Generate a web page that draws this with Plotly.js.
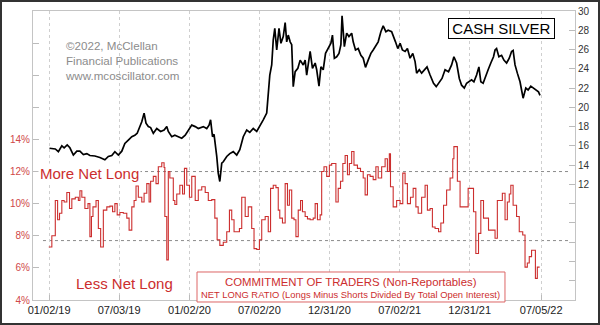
<!DOCTYPE html>
<html>
<head>
<meta charset="utf-8">
<script src="https://cdn.plot.ly/plotly-3.0.1.min.js"></script>
<style>
html,body{margin:0;padding:0;background:#fff;}
#wrap{position:relative;width:600px;height:325px;}
#frame{position:absolute;left:0;top:0;width:600px;height:325px;box-sizing:border-box;border:2px solid #333;pointer-events:none;}
</style>
</head>
<body>
<div id="wrap"><div id="chart"></div><div id="frame"></div></div>
<script>
// Cash silver price (right axis, $/oz)
const silverDates = ["2019-01-03","2019-01-18","2019-01-26","2019-02-04","2019-02-10","2019-02-18","2019-02-25","2019-03-06","2019-03-15","2019-03-23","2019-04-01","2019-04-10","2019-04-18","2019-05-01","2019-05-14","2019-05-27","2019-06-05","2019-06-14","2019-06-22","2019-07-01","2019-07-10","2019-07-18","2019-07-27","2019-08-05","2019-08-13","2019-08-19","2019-08-24","2019-08-31","2019-09-06","2019-09-11","2019-09-17","2019-09-23","2019-09-30","2019-10-09","2019-10-19","2019-10-28","2019-11-04","2019-11-08","2019-11-17","2019-11-25","2019-12-04","2019-12-13","2019-12-22","2019-12-31","2020-01-08","2020-01-17","2020-01-25","2020-02-07","2020-02-16","2020-02-22","2020-02-26","2020-03-02","2020-03-06","2020-03-13","2020-03-17","2020-03-21","2020-03-26","2020-03-30","2020-04-08","2020-04-16","2020-04-25","2020-05-04","2020-05-12","2020-05-21","2020-05-30","2020-06-07","2020-06-16","2020-06-25","2020-07-03","2020-07-12","2020-07-21","2020-07-24","2020-07-29","2020-08-03","2020-08-07","2020-08-11","2020-08-16","2020-08-22","2020-08-27","2020-09-02","2020-09-07","2020-09-11","2020-09-15","2020-09-20","2020-09-24","2020-09-28","2020-10-03","2020-10-10","2020-10-16","2020-10-24","2020-10-29","2020-11-02","2020-11-11","2020-11-17","2020-11-24","2020-11-28","2020-12-04","2020-12-09","2020-12-15","2020-12-21","2020-12-28","2021-01-04","2021-01-08","2021-01-13","2021-01-19","2021-01-25","2021-01-30","2021-02-02","2021-02-08","2021-02-14","2021-02-20","2021-02-27","2021-03-03","2021-03-09","2021-03-16","2021-03-23","2021-03-29","2021-04-04","2021-04-11","2021-04-18","2021-04-24","2021-04-30","2021-05-07","2021-05-14","2021-05-20","2021-05-27","2021-06-02","2021-06-11","2021-06-15","2021-06-21","2021-06-27","2021-07-03","2021-07-09","2021-07-16","2021-07-22","2021-07-29","2021-08-05","2021-08-11","2021-08-15","2021-08-22","2021-08-28","2021-09-04","2021-09-11","2021-09-19","2021-09-28","2021-10-05","2021-10-11","2021-10-20","2021-10-28","2021-11-06","2021-11-14","2021-11-20","2021-11-27","2021-12-04","2021-12-10","2021-12-17","2021-12-23","2021-12-30","2022-01-05","2022-01-11","2022-01-18","2022-01-24","2022-01-29","2022-02-04","2022-02-11","2022-02-17","2022-02-24","2022-03-03","2022-03-07","2022-03-11","2022-03-17","2022-03-24","2022-03-30","2022-04-06","2022-04-13","2022-04-19","2022-04-23","2022-04-28","2022-05-04","2022-05-11","2022-05-15","2022-05-19","2022-05-26","2022-06-01","2022-06-08","2022-06-15","2022-06-22","2022-06-28","2022-07-02"];
const silverVals = [15.75,15.68,15.4,16.0,15.8,16.1,15.8,15.05,15.45,15.45,15.1,15.2,15.0,14.95,14.8,14.55,14.9,15.0,15.4,15.05,15.45,16.25,16.6,16.95,17.1,17.3,17.8,18.5,19.4,18.35,18.0,17.9,17.3,17.8,17.5,17.65,18.0,17.5,16.95,17.1,16.95,16.8,17.1,17.65,18.15,18.0,17.8,18.0,17.8,18.15,18.7,16.95,17.2,14.9,13.15,12.3,14.2,14.35,14.9,15.2,15.4,15.05,15.6,16.95,17.65,17.4,17.8,17.5,18.0,18.7,19.4,20.9,23.35,24.4,27.0,28.2,25.95,28.2,26.65,27.35,28.8,26.8,27.5,26.8,26.5,22.15,23.7,24.05,24.9,24.4,24.9,23.35,25.8,24.05,24.6,23.9,22.2,24.2,23.9,25.6,26.1,26.65,27.5,25.1,25.25,25.6,26.5,29.5,26.3,27.7,27.35,27.7,26.8,25.95,26.1,25.4,25.1,24.15,24.9,25.6,25.95,26.3,26.8,27.85,28.45,27.85,28.0,27.85,27.5,26.8,26.1,26.65,25.95,25.8,26.1,25.1,25.6,24.75,23.55,23.9,23.55,23.9,24.2,23.35,22.5,22.15,22.5,23.0,23.9,23.7,24.4,25.25,24.6,23.0,22.3,22.0,22.5,22.65,22.85,22.65,23.35,24.2,22.65,22.5,23.35,23.9,24.6,25.25,25.95,26.1,25.25,25.4,24.9,24.6,25.1,25.8,25.9,24.4,23.55,22.65,21.8,20.95,22.0,21.8,22.2,22.0,21.8,21.6,21.25];

// COT non-reportables net long ratio (left axis, %)
const cotDates = ["2019-01-01","2019-01-09","2019-01-18","2019-01-24","2019-01-29","2019-02-04","2019-02-10","2019-02-17","2019-02-24","2019-03-02","2019-03-11","2019-03-19","2019-03-23","2019-03-28","2019-04-05","2019-04-13","2019-04-18","2019-04-22","2019-04-26","2019-05-04","2019-05-10","2019-05-16","2019-05-23","2019-06-01","2019-06-09","2019-06-16","2019-06-22","2019-06-28","2019-07-05","2019-07-14","2019-07-23","2019-07-29","2019-08-05","2019-08-11","2019-08-16","2019-08-22","2019-08-31","2019-09-06","2019-09-13","2019-09-19","2019-09-23","2019-09-30","2019-10-07","2019-10-13","2019-10-22","2019-10-28","2019-10-30","2019-11-04","2019-11-08","2019-11-12","2019-11-21","2019-11-25","2019-11-30","2019-12-08","2019-12-15","2019-12-20","2019-12-26","2020-01-02","2020-01-08","2020-01-17","2020-01-25","2020-02-03","2020-02-12","2020-02-20","2020-02-29","2020-03-08","2020-03-14","2020-03-21","2020-03-30","2020-04-08","2020-04-15","2020-04-21","2020-04-27","2020-05-11","2020-05-17","2020-05-26","2020-06-03","2020-06-12","2020-06-18","2020-06-25","2020-07-02","2020-07-08","2020-07-17","2020-07-25","2020-07-31","2020-08-07","2020-08-14","2020-08-20","2020-08-24","2020-08-31","2020-09-07","2020-09-13","2020-09-18","2020-09-24","2020-09-30","2020-10-05","2020-10-11","2020-10-17","2020-10-22","2020-10-29","2020-11-04","2020-11-11","2020-11-19","2020-11-24","2020-11-30","2020-12-07","2020-12-11","2020-12-17","2020-12-24","2020-12-31","2021-01-06","2021-01-17","2021-01-23","2021-01-29","2021-02-04","2021-02-10","2021-02-16","2021-02-21","2021-02-27","2021-03-05","2021-03-14","2021-03-22","2021-03-29","2021-04-03","2021-04-09","2021-04-16","2021-04-24","2021-05-01","2021-05-07","2021-05-16","2021-05-25","2021-05-31","2021-06-05","2021-06-08","2021-06-15","2021-06-24","2021-07-03","2021-07-10","2021-07-16","2021-07-22","2021-07-30","2021-08-06","2021-08-13","2021-08-19","2021-08-28","2021-09-06","2021-09-12","2021-09-19","2021-09-25","2021-10-02","2021-10-11","2021-10-17","2021-10-24","2021-11-01","2021-11-10","2021-11-17","2021-11-20","2021-11-29","2021-12-06","2021-12-27","2022-01-10","2022-01-16","2022-01-23","2022-01-29","2022-02-05","2022-02-18","2022-03-07","2022-03-13","2022-03-26","2022-04-02","2022-04-08","2022-04-13","2022-04-17","2022-04-23","2022-05-02","2022-05-09","2022-05-18","2022-05-24","2022-05-30","2022-06-04","2022-06-10","2022-06-20","2022-06-25","2022-07-01"];
const cotVals = [7.3,8.0,10.2,9.0,9.4,10.2,10.1,10.7,9.7,10.3,10.4,10.2,10.8,10.4,9.7,10.0,7.95,9.2,9.8,10.2,8.45,7.3,9.6,9.8,9.85,9.5,10.0,9.3,9.45,9.4,9.1,8.35,9.8,10.2,11.1,10.4,10.1,10.65,11.25,10.1,11.4,11.7,11.25,12.3,12.55,12.25,9.2,6.5,12.0,11.6,10.2,9.95,10.6,11.15,10.6,12.2,11.15,10.4,11.7,10.2,10.85,11.05,10.7,10.2,10.25,9.1,7.75,7.4,7.6,8.25,9.6,9.0,8.25,8.45,10.4,9.2,9.8,8.45,7.2,7.15,7.75,9.0,9.2,8.25,10.95,11.15,11.0,9.6,9.1,8.8,11.25,9.9,10.85,9.1,9.0,7.95,9.6,10.2,9.5,9.2,9.05,9.0,9.1,10.0,9.0,9.3,12.0,12.3,11.7,12.4,12.5,10.1,10.95,11.4,12.5,13.0,11.8,12.5,13.25,12.4,12.2,12.0,11.6,10.55,11.8,11.7,11.5,12.3,11.6,12.3,12.8,12.0,13.1,11.05,9.8,10.2,10.0,11.9,11.25,10.0,10.4,10.95,9.8,9.4,10.4,11.15,9.6,9.7,8.55,8.45,8.25,8.8,9.9,10.85,11.6,12.8,13.55,11.4,9.8,10.95,9.5,6.9,8.15,10.2,9.1,8.35,7.85,10.2,10.65,9.0,10.1,10.6,11.15,9.9,9.2,8.25,8.05,6.05,6.3,6.7,7.1,5.35,6.05,6.05];

const xTickVals = ["2019-01-02","2019-07-03","2020-01-02","2020-07-02","2020-12-31","2021-07-02","2021-12-31","2022-07-05"];
const xTickText = ["01/02/19","07/03/19","01/02/20","07/02/20","12/31/20","07/02/21","12/31/21","07/05/22"];
const leftTickVals = [4,6,8,10,12,14,16,18,20,22];
const leftTickText = ["4%","6%","8%","10%","12%","14%","","","",""];
const rightTickVals = [0,2,4,6,8,10,12,14,16,18,20,22,24,26,28,30];
const rightTickText = ["","","","","","","12","14","16","18","20","22","24","26","28","30"];
const refLevels = [12, 7.7];

const RED = '#cc2e2e';
const FONT = 'Liberation Sans, Arial, sans-serif';

const traces = [
  {x: cotDates, y: cotVals, type: 'scatter', mode: 'lines', line: {shape: 'hv', color: RED, width: 1.1}, yaxis: 'y', hoverinfo: 'skip'},
  {x: silverDates, y: silverVals, type: 'scatter', mode: 'lines', line: {color: '#000', width: 1.7}, yaxis: 'y2', hoverinfo: 'skip'}
];

const shapes = refLevels.map(v => ({type: 'line', xref: 'x', yref: 'y', x0: '2018-12-17', x1: '2022-09-15', y0: v, y1: v, line: {color: '#8a8a8a', width: 1, dash: 'dot'}, layer: 'below'}));
shapes.push({type: 'rect', xref: 'paper', yref: 'paper', x0: 0.3026, x1: 0.8708, y0: -0.0069, y1: 0.0969, fillcolor: '#fff', line: {color: '#d66', width: 1}, layer: 'above'});

const annotations = [
  {xref: 'paper', yref: 'paper', x: 0.0554, y: 0.8287, xanchor: 'left', yanchor: 'middle', align: 'left', showarrow: false,
   text: '©2022, McClellan<br>Financial Publications<br>www.mcoscillator.com', font: {family: FONT, size: 11.6, color: '#8c8c8c'}},
  {xref: 'paper', yref: 'paper', x: 0.8644, y: 0.941, xanchor: 'center', yanchor: 'middle', showarrow: false,
   text: 'CASH SILVER', font: {family: FONT, size: 15, color: '#000'}, bgcolor: '#fff', bordercolor: '#000', borderwidth: 1, borderpad: 1, width: 103, height: 17},
  {xref: 'paper', yref: 'paper', x: 0.0092, y: 0.436, xanchor: 'left', yanchor: 'middle', showarrow: false,
   text: 'More Net Long', font: {family: FONT, size: 15, color: RED}, bgcolor: '#fff'},
  {xref: 'paper', yref: 'paper', x: 0.168, y: 0.0554, xanchor: 'center', yanchor: 'middle', showarrow: false,
   text: 'Less Net Long', font: {family: FONT, size: 15, color: RED}},
  {xref: 'paper', yref: 'paper', x: 0.5867, y: 0.0623, xanchor: 'center', yanchor: 'middle', showarrow: false,
   text: 'COMMITMENT OF TRADERS (Non-Reportables)', font: {family: FONT, size: 11.4, color: RED}},
  {xref: 'paper', yref: 'paper', x: 0.5867, y: 0.0197, xanchor: 'center', yanchor: 'middle', showarrow: false,
   text: 'NET LONG RATIO (Longs Minus Shorts Divided By Total Open Interest)', font: {family: FONT, size: 9.4, color: RED}}
];

const layout = {
  width: 600, height: 325,
  margin: {l: 33, r: 25, t: 11, b: 25, pad: 0},
  paper_bgcolor: '#fff', plot_bgcolor: '#fff',
  showlegend: false,
  font: {family: FONT},
  xaxis: {type: 'date', range: ['2018-11-21', '2022-10-01'], tickmode: 'array', tickvals: xTickVals, ticktext: xTickText,
    ticks: 'inside', ticklen: 5, tickcolor: '#bbb', showgrid: true, gridcolor: '#cfcfcf', griddash: 'dot', gridwidth: 1,
    showline: true, linecolor: '#c4c4c4', mirror: true, zeroline: false, tickfont: {size: 11, color: '#222'}, fixedrange: true},
  yaxis: {range: [4, 22], tickmode: 'array', tickvals: leftTickVals, ticktext: leftTickText, ticks: 'inside', ticklen: 6, tickcolor: '#bbb',
    showgrid: false, showline: true, linecolor: '#c4c4c4', zeroline: false, tickfont: {size: 10, color: '#d04848'}, fixedrange: true},
  yaxis2: {range: [0, 30], overlaying: 'y', side: 'right', tickmode: 'array', tickvals: rightTickVals, ticktext: rightTickText,
    ticks: 'inside', ticklen: 6, tickcolor: '#bbb', showgrid: false, showline: true, linecolor: '#c4c4c4', zeroline: false,
    tickfont: {size: 10, color: '#333'}, fixedrange: true},
  shapes: shapes,
  annotations: annotations
};

Plotly.newPlot('chart', traces, layout, {displayModeBar: false, staticPlot: true});
</script>
</body>
</html>
